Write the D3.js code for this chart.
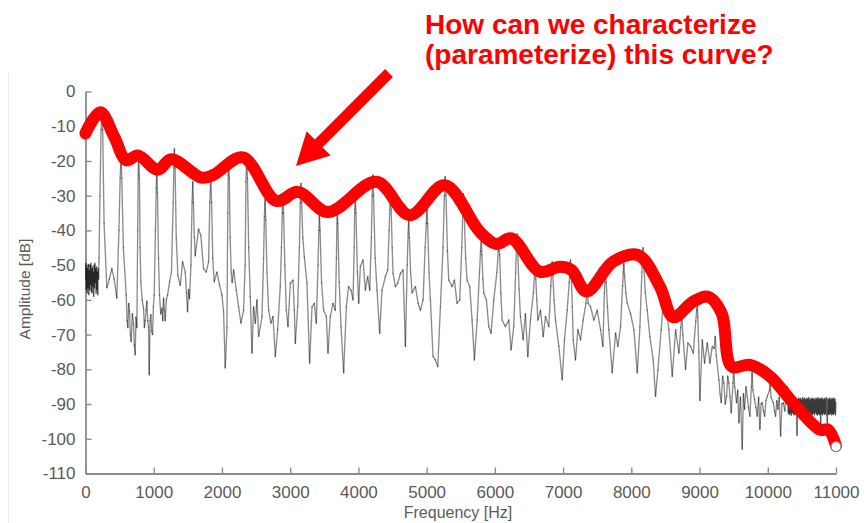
<!DOCTYPE html>
<html>
<head>
<meta charset="utf-8">
<script src="https://cdn.jsdelivr.net/npm/d3@7"></script>
<style>
  body { margin: 0; background: #fff; }
  svg { display: block; }
  text { font-family: "Liberation Sans", Arial, Helvetica, sans-serif; }
</style>
</head>
<body>
<svg id="chart" width="866" height="523"></svg>
<script>
// Axis ticks
const xTicks = [0, 1000, 2000, 3000, 4000, 5000, 6000, 7000, 8000, 9000, 10000, 11000];
const yTicks = [0, -10, -20, -30, -40, -50, -60, -70, -80, -90, -100, -110];

// Magnitude spectrum of the note: [frequency Hz, amplitude dB]
const spectrum = [
  [0,-54],[6,-49.5],[12,-57],[18,-50.5],[24,-58],[30,-51],[36,-56.5],[42,-49.8],[48,-58.5],[54,-51.5],[60,-57],[66,-50],
  [72,-55.5],[78,-49.5],[84,-57.5],[90,-51],[96,-58],[102,-50.5],[108,-56],[114,-52],[120,-59],[126,-50],[132,-56.5],
  [138,-49.5],[144,-55],[150,-51],[156,-58],[162,-50.5],[168,-57],[174,-52],[180,-58.5],[186,-51],[192,-54],[198,-48],
  [212,-30],[228,-11],[240,-5],[252,-11],[272,-38],
  [313,-56.5],[350,-54],[386,-51],[420,-54],[459,-59.5],
  [490,-40],[508,-25],[520,-19],[532,-25],[555,-45],
  [597,-58.6],[609,-66],[621,-68],[633,-61],[645,-63.4],[658,-70],[670,-72],[687,-64],[704,-67],[716,-73],[728,-75.8],[740,-65],[753,-68],
  [765,-40],[772,-24],[780,-18],[790,-25],[800,-45],
  [811,-54.8],[831,-60],[851,-62.4],[863,-68],[875,-66],[888,-63],[900,-60.4],[912,-66],[924,-68],[934,-81.6],[946,-66],[958,-64.3],[970,-69],[983,-70],[995,-62],[1007,-58.6],
  [1025,-40],[1036,-28],[1045,-23],[1055,-29],[1070,-48],
  [1085,-58.6],[1102,-64],[1120,-62.4],[1132,-66],[1144,-59.5],[1156,-63],[1168,-66],[1185,-60],[1203,-58.6],[1232,-54.8],[1260,-52],
  [1285,-32],[1295,-22],[1303,-16.5],[1313,-22],[1330,-42],
  [1354,-53],[1389,-55.8],[1423,-49],[1462,-52],[1480,-58],[1496,-63.4],[1510,-57],[1525,-59.6],[1545,-50],
  [1562,-32],[1572,-26],[1582,-32],[1595,-42],
  [1608,-47.3],[1657,-39.6],[1691,-41.5],[1730,-51],[1770,-52],[1804,-49],
  [1822,-32],[1836,-24.5],[1848,-32],[1865,-48],
  [1887,-54.8],[1926,-52],[1965,-55.7],[2000,-58.6],[2024,-63.4],[2048,-79.6],[2073,-68],
  [2085,-35],[2092,-24],[2098,-19],[2108,-25],[2120,-42],
  [2135,-52],[2150,-55],[2171,-51.4],[2210,-57.2],[2244,-62],[2278,-66.7],[2317,-63],[2340,-50],
  [2352,-26],[2363,-18],[2374,-25],[2392,-45],
  [2415,-59],[2440,-75.3],[2464,-62],[2489,-66.7],[2513,-60],[2538,-70.5],[2587,-64.8],[2610,-48],
  [2622,-36],[2632,-31],[2642,-37],[2660,-52],
  [2684,-63],[2718,-66.7],[2748,-64.8],[2782,-76.3],[2816,-68.6],[2855,-56.2],[2872,-45],
  [2884,-35],[2893,-29.5],[2903,-35],[2922,-50],
  [2943,-63],[2968,-67.7],[3002,-55.2],[3041,-54.3],[3061,-63],[3075,-72.5],[3110,-62],[3135,-45],
  [3148,-32],[3158,-26.5],[3168,-32],[3185,-42],
  [3207,-47.6],[3246,-55.2],[3285,-78.2],[3320,-62],[3354,-61],[3383,-66.7],[3408,-50],
  [3420,-40],[3428,-35],[3438,-40],[3460,-55],
  [3490,-63],[3530,-64.8],[3554,-75.3],[3588,-64.8],[3627,-61],[3661,-63],[3678,-48],
  [3688,-33],[3698,-38],[3718,-55],
  [3745,-67.7],[3784,-81],[3823,-62],[3857,-56.2],[3892,-57.2],[3921,-60],[3938,-45],
  [3946,-34],[3954,-29.5],[3964,-35],[3985,-52],
  [4004,-61],[4028,-50.4],[4068,-48.5],[4102,-57.2],[4136,-53.3],[4166,-57.2],[4190,-42],
  [4202,-30],[4212,-24],[4222,-30],[4245,-48],
  [4273,-57.2],[4312,-69.6],[4346,-57.2],[4395,-53.3],[4430,-51.4],[4450,-40],
  [4462,-33],[4470,-28.5],[4480,-34],[4495,-45],
  [4508,-52.4],[4542,-56.2],[4577,-55.2],[4615,-52.4],[4654,-51.4],[4689,-73.4],[4715,-50],
  [4728,-41],[4737,-37],[4747,-42],[4765,-52],
  [4787,-58],[4836,-56.2],[4875,-61],[4909,-63],[4948,-60],[4978,-45],
  [4995,-38],[5004,-33],[5014,-38],[5035,-52],
  [5055,-60],[5094,-76.3],[5128,-77.3],[5163,-79.2],[5202,-62],[5240,-45],
  [5260,-30],[5272,-24.5],[5284,-30],[5305,-46],
  [5324,-54.3],[5373,-56.2],[5407,-54.3],[5446,-61],[5485,-60],[5515,-45],
  [5530,-35],[5540,-29.5],[5550,-35],[5572,-48],
  [5593,-54.3],[5632,-56.2],[5666,-65.8],[5700,-77.3],[5740,-65.8],[5775,-52],
  [5790,-46],[5800,-42.5],[5810,-47],[5825,-54],
  [5837,-58],[5876,-60],[5911,-67.7],[5945,-69.6],[5984,-60],[6030,-52],
  [6050,-46],[6060,-42.5],[6070,-47],[6088,-58],
  [6106,-65.8],[6155,-67.7],[6204,-65.8],[6238,-74.4],[6277,-67.7],[6305,-52],
  [6316,-45],[6325,-41],[6335,-46],[6355,-57],
  [6375,-64.8],[6414,-71.5],[6448,-64],[6483,-76.3],[6521,-65.8],[6565,-58],
  [6580,-53],[6590,-50],[6600,-54],[6615,-60],
  [6630,-65.8],[6669,-63],[6708,-70.6],[6742,-64.8],[6791,-67.7],[6820,-56],
  [6832,-52],[6840,-49],[6850,-53],[6868,-60],
  [6889,-65.8],[6938,-73.4],[6987,-83],[7021,-71.5],[7060,-63],[7090,-55],
  [7100,-51.5],[7108,-48.5],[7118,-52],[7135,-62],
  [7148,-71.5],[7182,-77.3],[7217,-68.6],[7256,-71.5],[7294,-65.8],[7335,-61],
  [7353,-57],[7368,-61],
  [7402,-62],[7451,-65.8],[7500,-63],[7549,-68.6],[7583,-73.4],[7605,-58],
  [7614,-54],[7622,-51.5],[7632,-55],[7650,-62],
  [7671,-68.6],[7720,-81],[7769,-69.6],[7803,-73.4],[7842,-67.7],[7872,-56],
  [7882,-52],[7890,-49.5],[7900,-53],[7920,-58],
  [7940,-61],[7989,-64],[8038,-68.6],[8087,-81],[8126,-67.7],[8155,-52],
  [8163,-48],[8172,-45],[8182,-49],[8205,-58],
  [8233,-63],[8272,-70.6],[8321,-77.3],[8355,-87.8],[8390,-80.2],[8438,-68.6],[8470,-60],
  [8480,-56],[8492,-59],
  [8551,-68.6],[8600,-82],[8649,-68.6],[8698,-75.3],[8725,-68],
  [8740,-64],[8755,-70],
  [8795,-80],[8829,-72.4],[8869,-73.4],[8908,-75.3],[8945,-66],
  [8958,-63],[8966,-61],[8975,-65],[8990,-75],
  [9005,-89],[9040,-71.5],[9074,-78.2],[9113,-72.4],[9152,-78.2],[9186,-73.4],[9215,-74],
  [9230,-70.5],[9245,-76],
  [9284,-83],[9300,-87],[9318,-89.6],[9338,-82],[9357,-84],[9376,-90],[9396,-87.8],[9413,-82],[9430,-84],[9447,-88],[9464,-92.5],[9490,-84],
  [9502,-80],[9515,-85],
  [9543,-89.6],[9560,-86],[9577,-95.4],[9600,-88],[9626,-103],[9643,-87],[9660,-91.5],[9680,-85],[9699,-87.8],[9718,-91],[9738,-93.5],[9760,-85],
  [9770,-81],[9782,-86],
  [9807,-88.7],[9826,-91],[9846,-93.5],[9866,-88],[9885,-97.3],[9902,-90],[9920,-89.6],[9937,-92],[9954,-93.5],[9974,-89],[9993,-87.8],[10025,-86],
  [10035,-84],[10048,-88],
  [10081,-89.6],[10098,-92],[10115,-93.5],[10132,-89],[10149,-91.5],[10168,-88],[10188,-99.2],[10208,-90],[10228,-89.6],[10250,-92],[10270,-87],
  [10285,-85],[10295,-89],
  [10300,-92.5],[10307,-88.4],[10315,-93.0],[10322,-88.7],[10330,-92.6],[10337,-88.3],[10345,-93.2],[10352,-88.9],
  [10360,-92.4],[10367,-88.5],[10375,-92.9],[10382,-88.2],[10390,-93.1],[10397,-88.6],[10405,-92.7],[10412,-88.4],
  [10420,-93.0],[10430,-99],[10437,-88.8],[10445,-92.5],[10452,-88.3],[10460,-93.2],[10467,-88.6],[10475,-92.8],
  [10482,-88.4],[10490,-93.0],[10497,-88.9],[10505,-92.5],[10512,-88.2],[10520,-93.3],[10527,-88.7],[10535,-92.6],
  [10542,-88.3],[10550,-92.9],[10557,-88.8],[10565,-93.1],[10572,-88.4],[10580,-92.7],[10587,-88.6],[10595,-93.0],
  [10602,-88.2],[10610,-92.5],[10617,-88.9],[10625,-93.2],[10632,-88.5],[10640,-92.8],[10647,-88.3],[10655,-93.0],
  [10662,-88.7],[10670,-92.6],[10677,-88.4],[10685,-93.1],[10692,-88.8],[10700,-92.4],[10707,-88.3],[10715,-92.9],
  [10722,-88.6],[10730,-93.2],[10737,-88.2],[10745,-92.7],[10752,-88.7],[10760,-93.0],[10767,-88.4],[10776,-97.4],
  [10782,-88.6],[10790,-92.8],[10797,-88.3],[10805,-93.1],[10812,-88.8],[10820,-92.5],[10827,-88.4],[10835,-93.0],
  [10842,-88.6],[10850,-92.7],[10857,-88.2],[10865,-93.2],[10873,-95.4],[10880,-88.5],[10887,-92.9],[10895,-88.7],
  [10902,-93.0],[10910,-88.3],[10917,-92.6],[10925,-88.8],[10932,-93.1],[10940,-88.4],[10947,-92.8],[10955,-88.6],
  [10962,-93.0],[10970,-88.3],[10977,-92.5],[10985,-88.7],[10992,-93.1],[11000,-89.5]
];

// Hand-drawn spectral envelope over the harmonic peaks: [frequency Hz, amplitude dB]
const envelope = [
  [0,-12],[216,-6],[420,-13],[597,-19.8],[767,-18.4],[1060,-22.5],[1257,-19.5],[1697,-24.8],[1867,-24.1],
  [2307,-19],[2797,-31.5],[3114,-28.9],[3554,-34.7],[4264,-26],[4752,-35.6],[5265,-27],[5779,-40.4],
  [6023,-43.9],[6243,-42.3],[6659,-51.9],[6952,-50.5],[7123,-51.4],[7343,-57.6],[7734,-49],[8101,-47.1],
  [8419,-56.2],[8614,-65],[8907,-60.5],[9127,-59.1],[9323,-63.8],[9470,-79.2],[9739,-78.7],[10032,-82],
  [10374,-89.7],[10765,-97.4],[10887,-97.4],[11000,-102]
];

const questionLines = ["How can we characterize", "(parameterize) this curve?"];
const xTitle = "Frequency [Hz]";
const yTitle = "Amplitude [dB]";

const svg = d3.select("#chart");
const H = 523;
const plot = { left: 85.5, right: 836, top: 91.5, bottom: 473.5 };

const x = d3.scaleLinear().domain([0, 11000]).range([plot.left, plot.right]);
const y = d3.scaleLinear().domain([-110, 0]).range([plot.bottom, plot.top]);

const axisGray = "#8c8c8c";
const labelGray = "#5a5a5a";

// faint frame edge on the left of the figure
svg.append("line")
  .attr("x1", 8.5).attr("x2", 8.5).attr("y1", 72).attr("y2", H)
  .attr("stroke", "#ececec").attr("stroke-width", 1);

// Axes (ticks point into the plot)
const gx = svg.append("g")
  .attr("transform", `translate(0,${plot.bottom})`)
  .call(d3.axisBottom(x).tickValues(xTicks).tickSizeInner(-6).tickSizeOuter(0).tickPadding(12).tickFormat(d3.format("d")));
const gy = svg.append("g")
  .attr("transform", `translate(${plot.left},0)`)
  .call(d3.axisLeft(y).tickValues(yTicks).tickSizeInner(-6).tickSizeOuter(0).tickPadding(10).tickFormat(d => d === 0 ? "0" : "-" + Math.abs(d)));

[gx, gy].forEach(g => {
  g.select(".domain").attr("stroke", axisGray).attr("stroke-width", 1.8);
  g.selectAll(".tick line").attr("stroke", axisGray).attr("stroke-width", 1.4);
  g.selectAll(".tick text")
    .attr("fill", labelGray)
    .style("font-size", "17px")
    .style("font-family", "'Liberation Sans', Arial, sans-serif");
});
gx.selectAll(".tick text").attr("dy", "0.71em");

svg.append("text")
  .attr("x", 458).attr("y", 518)
  .attr("text-anchor", "middle")
  .attr("fill", labelGray)
  .style("font-size", "16px")
  .text(xTitle);

svg.append("text")
  .attr("transform", `translate(30,289) rotate(-90)`)
  .attr("text-anchor", "middle")
  .attr("fill", labelGray)
  .style("font-size", "15.5px")
  .text(yTitle);

// Spectrum: drawn segment by segment so dense noisy stretches darken
svg.append("g")
  .selectAll("line")
  .data(d3.pairs(spectrum))
  .join("line")
  .attr("x1", d => x(d[0][0])).attr("y1", d => y(d[0][1]))
  .attr("x2", d => x(d[1][0])).attr("y2", d => y(d[1][1]))
  .attr("stroke", "#000")
  .attr("stroke-opacity", 0.45)
  .attr("stroke-width", 1.35)
  .attr("stroke-linecap", "round");

// start marker sits under the envelope
const first = envelope[0], last = envelope[envelope.length - 1];
svg.append("circle")
  .attr("cx", x(first[0])).attr("cy", y(first[1]) + 2).attr("r", 4.5)
  .attr("fill", "#fff").attr("stroke", "#888").attr("stroke-width", 1.2);

// Envelope curve
svg.append("path")
  .datum(envelope)
  .attr("d", d3.line().x(d => x(d[0])).y(d => y(d[1])).curve(d3.curveCatmullRom.alpha(0.5)))
  .attr("fill", "none")
  .attr("stroke", "#ff0000")
  .attr("stroke-width", 12)
  .attr("stroke-linecap", "round")
  .attr("stroke-linejoin", "round");

svg.append("circle")
  .attr("cx", x(last[0])).attr("cy", y(last[1]) + 1).attr("r", 5)
  .attr("fill", "#fff").attr("stroke", "#888").attr("stroke-width", 1.2);

// Question callout
svg.append("text")
  .attr("x", 425).attr("y", 34)
  .attr("fill", "#ff0000")
  .style("font-size", "28px").style("font-weight", "bold")
  .selectAll("tspan")
  .data(questionLines)
  .join("tspan")
  .attr("x", 425)
  .attr("dy", (d, i) => i === 0 ? 0 : 30)
  .text(d => d);

// Arrow pointing from the callout down to the envelope
const tail = [389, 73], tip = [296, 166];
const len = Math.hypot(tip[0] - tail[0], tip[1] - tail[1]);
const ux = (tip[0] - tail[0]) / len, uy = (tip[1] - tail[1]) / len;
const headLen = 32, headHalf = 17;
const base = [tip[0] - ux * headLen, tip[1] - uy * headLen];
svg.append("line")
  .attr("x1", tail[0]).attr("y1", tail[1])
  .attr("x2", base[0] + ux * 2).attr("y2", base[1] + uy * 2)
  .attr("stroke", "#ff0000").attr("stroke-width", 11);
svg.append("polygon")
  .attr("points", [
    tip,
    [base[0] - uy * headHalf, base[1] + ux * headHalf],
    [base[0] + uy * headHalf, base[1] - ux * headHalf]
  ].map(p => p.join(",")).join(" "))
  .attr("fill", "#ff0000");
</script>
</body>
</html>
